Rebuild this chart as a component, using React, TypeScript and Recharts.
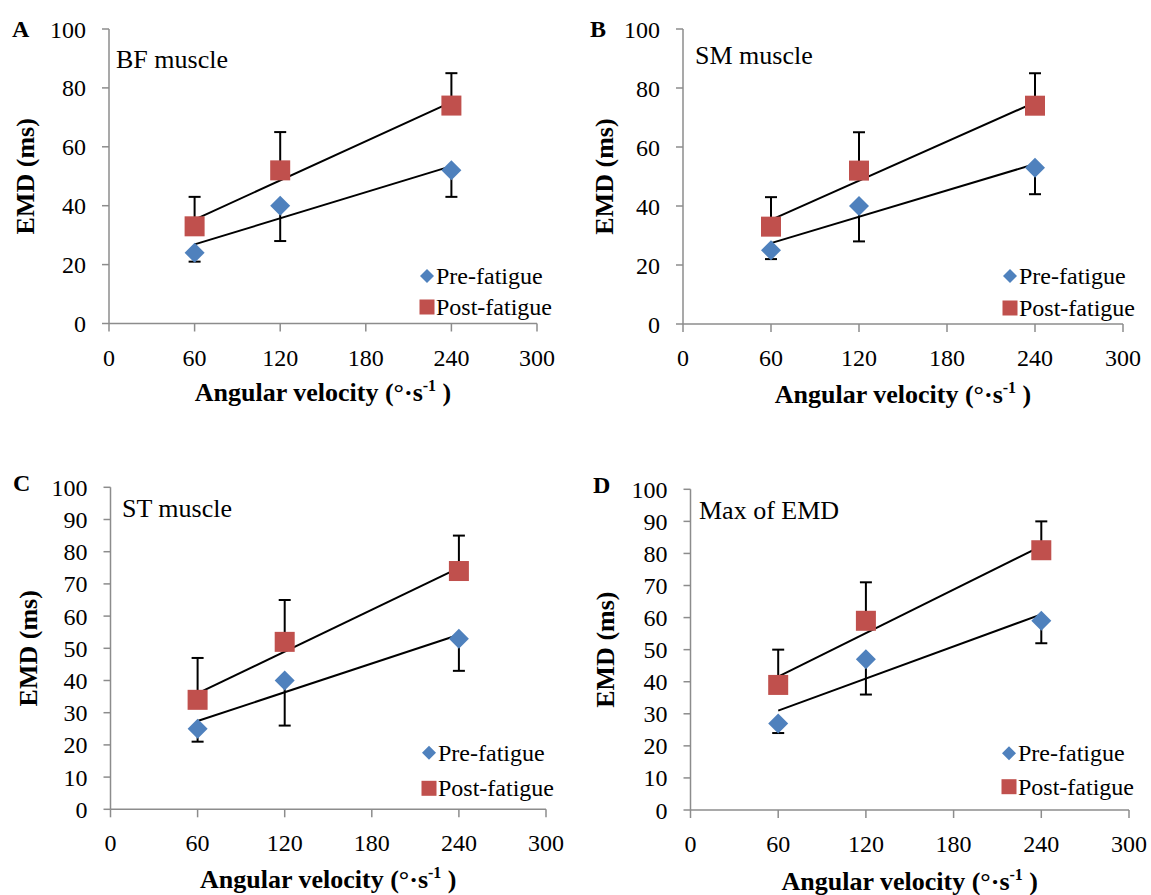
import React from "react";
import {
  ComposedChart,
  Scatter,
  Line,
  XAxis,
  YAxis,
  ErrorBar,
  Customized,
} from "recharts";

// angular velocity (deg/s) of each test
const velocities = [60, 120, 240];
const xTicks = [0, 60, 120, 180, 240, 300];
const yTicksCoarse = [0, 20, 40, 60, 80, 100];
const yTicksFine = [0, 10, 20, 30, 40, 50, 60, 70, 80, 90, 100];

// A: BF muscle
const bfPre = [24, 40, 52];
const bfPreLow = [21, 28, 43];
const bfPost = [33, 52, 74];
const bfPostHigh = [43, 65, 85];

// B: SM muscle
const smPre = [25, 40, 53];
const smPreLow = [22, 28, 44];
const smPost = [33, 52, 74];
const smPostHigh = [43, 65, 85];

// C: ST muscle
const stPre = [25, 40, 53];
const stPreLow = [21, 26, 43];
const stPost = [34, 52, 74];
const stPostHigh = [47, 65, 85];

// D: max of EMD
const maxPre = [27, 47, 59];
const maxPreLow = [24, 36, 52];
const maxPost = [39, 59, 81];
const maxPostHigh = [50, 71, 90];

const BLUE = "#4F81BD";
const RED = "#C0504D";
const AXIS = "#8c8c8c";
const FONT = "'Times New Roman', 'Liberation Serif', serif";

// least squares line, drawn between the first and last velocity (like Excel)
function trend(xs: number[], ys: number[]) {
  const n = xs.length;
  const mx = xs.reduce((a, b) => a + b, 0) / n;
  const my = ys.reduce((a, b) => a + b, 0) / n;
  let sxy = 0;
  let sxx = 0;
  xs.forEach((x, i) => {
    sxy += (x - mx) * (ys[i] - my);
    sxx += (x - mx) * (x - mx);
  });
  const slope = sxy / sxx;
  const lo = Math.min(...xs);
  const hi = Math.max(...xs);
  return [
    { x: lo, y: my + slope * (lo - mx) },
    { x: hi, y: my + slope * (hi - mx) },
  ];
}

const Diamond = (props: any) => {
  const { cx, cy } = props;
  if (cx == null || cy == null) return null;
  const r = 10;
  return (
    <polygon
      points={`${cx},${cy - r} ${cx + r},${cy} ${cx},${cy + r} ${cx - r},${cy}`}
      fill={BLUE}
    />
  );
};

const Square = (props: any) => {
  const { cx, cy } = props;
  if (cx == null || cy == null) return null;
  return <rect x={cx - 10} y={cy - 10} width={20} height={20} fill={RED} />;
};

type Layout = {
  box: number[]; // x, y, w, h on the page
  plot: number[]; // left, top, right, bottom on the page
  letter: number[];
  yTitleX: number;
  xTitleY: number;
  note: number[];
  legend: number[]; // marker x, pre y, post y
};

const layoutA: Layout = {
  box: [0, 0, 575, 445],
  plot: [109, 29, 537, 323.5],
  letter: [12, 29],
  yTitleX: 25,
  xTitleY: 401,
  note: [116, 67.5],
  legend: [427, 276, 307],
};
const layoutB: Layout = {
  box: [576, 0, 575, 445],
  plot: [683, 29, 1123, 324],
  letter: [590, 29],
  yTitleX: 604,
  xTitleY: 403,
  note: [695, 63.5],
  legend: [1010, 276, 308],
};
const layoutC: Layout = {
  box: [0, 450, 575, 445],
  plot: [110.5, 487.3, 546, 809.3],
  letter: [13, 483],
  yTitleX: 28,
  xTitleY: 888,
  note: [122, 516.7],
  legend: [429, 752.7, 788.3],
};
const layoutD: Layout = {
  box: [576, 450, 575, 445],
  plot: [690.5, 489.3, 1129, 810],
  letter: [593, 485],
  yTitleX: 605,
  xTitleY: 890,
  note: [699, 519.3],
  legend: [1009, 753.3, 786.7],
};

const Y_AXIS_W = 50;
const X_AXIS_H = 40;

function Panel(props: {
  letter: string;
  note: string;
  pre: number[];
  preLow: number[];
  post: number[];
  postHigh: number[];
  yTicks: number[];
  layout: Layout;
}) {
  const { letter, note, pre, preLow, post, postHigh, yTicks, layout } = props;
  const [bx, by, w, h] = layout.box;
  const [pl, pt, pr, pb] = layout.plot;

  // one-sided error bars: pre-fatigue downwards, post-fatigue upwards
  const preData = velocities.map((x, i) => ({
    x,
    y: pre[i],
    err: [pre[i] - preLow[i], 0],
  }));
  const postData = velocities.map((x, i) => ({
    x,
    y: post[i],
    err: [0, postHigh[i] - post[i]],
  }));
  const preTrend = trend(velocities, pre);
  const postTrend = trend(velocities, post);

  const margin = {
    left: pl - bx - Y_AXIS_W,
    top: pt - by,
    right: bx + w - pr,
    bottom: by + h - pb - X_AXIS_H,
  };

  // texts placed in chart-local coordinates
  const lx = (v: number) => v - bx;
  const ly = (v: number) => v - by;
  const plotMidX = lx((pl + pr) / 2);
  const plotMidY = ly((pt + pb) / 2);
  const [mx, ly1, ly2] = layout.legend;

  const Overlay = () => (
    <g fontFamily={FONT} fill="#000">
      <text x={lx(layout.letter[0])} y={ly(layout.letter[1]) + 8} fontSize={24} fontWeight={700}>
        {letter}
      </text>
      <text x={lx(layout.note[0])} y={ly(layout.note[1])} fontSize={26}>
        {note}
      </text>
      <text
        transform={`translate(${lx(layout.yTitleX)},${plotMidY}) rotate(-90)`}
        textAnchor="middle"
        dy="0.33em"
        fontSize={26}
        fontWeight={700}
      >
        EMD (ms)
      </text>
      <text x={plotMidX} y={ly(layout.xTitleY)} textAnchor="middle" fontSize={26} fontWeight={700}>
        Angular velocity (°·s
        <tspan dy={-10} fontSize={16}>-1</tspan>
        <tspan dy={10}> )</tspan>
      </text>
      {/* legend */}
      <polygon
        points={`${lx(mx)},${ly(ly1) - 7} ${lx(mx) + 7},${ly(ly1)} ${lx(mx)},${ly(ly1) + 7} ${lx(mx) - 7},${ly(ly1)}`}
        fill={BLUE}
      />
      <text x={lx(mx) + 9} y={ly(ly1) + 8} fontSize={24}>
        Pre-fatigue
      </text>
      <rect x={lx(mx) - 7.5} y={ly(ly2) - 7.5} width={15} height={15} fill={RED} />
      <text x={lx(mx) + 9} y={ly(ly2) + 8} fontSize={24}>
        Post-fatigue
      </text>
    </g>
  );

  const tickStyle = { fontFamily: FONT, fontSize: 24, fill: "#000" };

  return (
    <div style={{ position: "absolute", left: bx, top: by, width: w, height: h }}>
      <ComposedChart width={w} height={h} margin={margin}>
        <XAxis
          type="number"
          dataKey="x"
          domain={[0, 300]}
          ticks={xTicks}
          interval={0}
          height={X_AXIS_H}
          stroke={AXIS}
          strokeWidth={1.5}
          tickSize={8}
          tickMargin={17}
          tick={tickStyle}
          tickLine={{ stroke: AXIS, strokeWidth: 1.5 }}
        />
        <YAxis
          type="number"
          dataKey="y"
          domain={[0, 100]}
          ticks={yTicks}
          interval={0}
          width={Y_AXIS_W}
          stroke={AXIS}
          strokeWidth={1.5}
          tickSize={7}
          tickMargin={16}
          tick={tickStyle}
          tickLine={{ stroke: AXIS, strokeWidth: 1.5 }}
        />
        <Scatter data={preData} dataKey="y" shape={Diamond} isAnimationActive={false}>
          <ErrorBar dataKey="err" direction="y" width={6} strokeWidth={2} stroke="#000" isAnimationActive={false} />
        </Scatter>
        <Scatter data={postData} dataKey="y" shape={Square} isAnimationActive={false}>
          <ErrorBar dataKey="err" direction="y" width={6} strokeWidth={2} stroke="#000" isAnimationActive={false} />
        </Scatter>
        <Line data={preTrend} dataKey="y" stroke="#000" strokeWidth={2} dot={false} activeDot={false} isAnimationActive={false} />
        <Line data={postTrend} dataKey="y" stroke="#000" strokeWidth={2} dot={false} activeDot={false} isAnimationActive={false} />
        <Customized component={Overlay} />
      </ComposedChart>
    </div>
  );
}

export default function App() {
  return (
    <div style={{ position: "absolute", left: 0, top: 0, width: 1151, height: 895, background: "#fff" }}>
      <Panel letter="A" note="BF muscle" pre={bfPre} preLow={bfPreLow} post={bfPost} postHigh={bfPostHigh} yTicks={yTicksCoarse} layout={layoutA} />
      <Panel letter="B" note="SM muscle" pre={smPre} preLow={smPreLow} post={smPost} postHigh={smPostHigh} yTicks={yTicksCoarse} layout={layoutB} />
      <Panel letter="C" note="ST muscle" pre={stPre} preLow={stPreLow} post={stPost} postHigh={stPostHigh} yTicks={yTicksFine} layout={layoutC} />
      <Panel letter="D" note="Max of EMD" pre={maxPre} preLow={maxPreLow} post={maxPost} postHigh={maxPostHigh} yTicks={yTicksFine} layout={layoutD} />
    </div>
  );
}
